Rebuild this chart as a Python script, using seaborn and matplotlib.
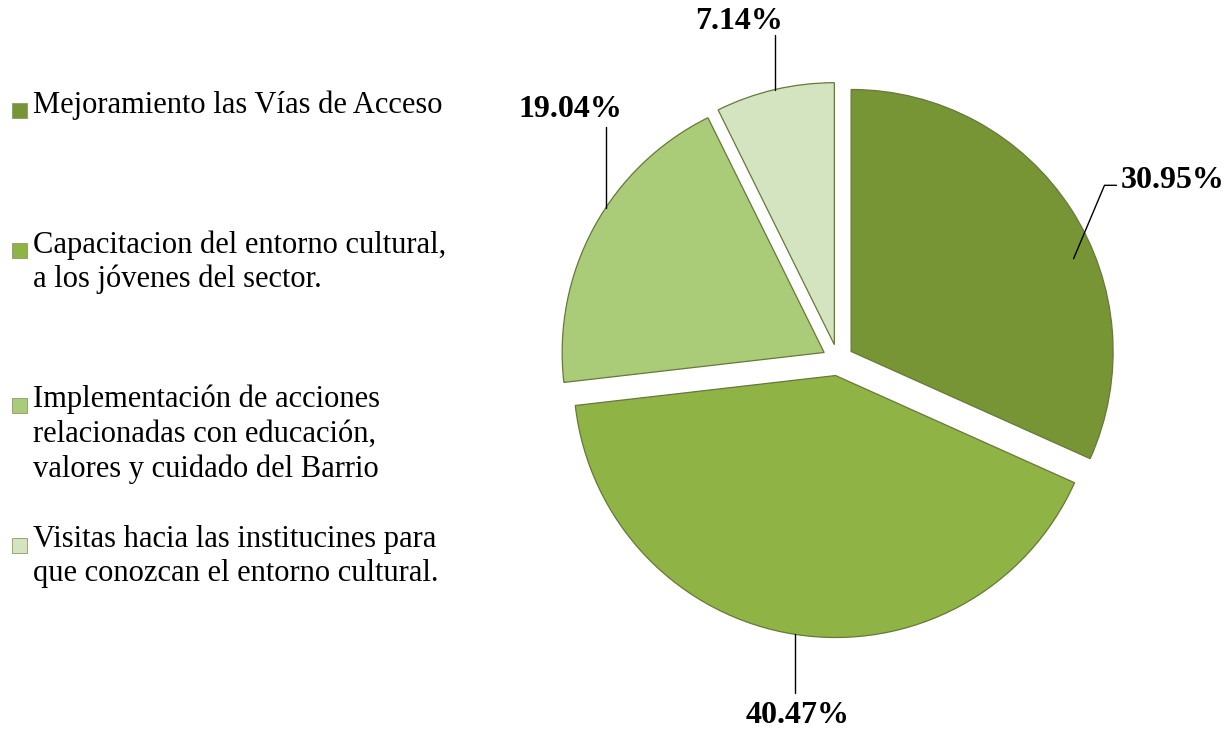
import numpy as np
import matplotlib.pyplot as plt
import seaborn as sns
from matplotlib.patches import Rectangle

# data
categorias = ["Mejoramiento las Vías de Acceso",
              "Capacitacion del entorno cultural,\na los jóvenes del sector.",
              "Implementación de acciones\nrelacionadas con educación,\nvalores y cuidado del Barrio",
              "Visitas hacia las institucines para\nque conozcan el entorno cultural."]
porcentajes = [30.95, 40.47, 19.04, 7.14]
etiquetas = ["30.95%", "40.47%", "19.04%", "7.14%"]
colores = ["#789536", "#8fb445", "#aacb78", "#d5e4c0"]

sns.set_theme(style="white")
plt.rcParams['font.family'] = ['Liberation Serif', 'DejaVu Serif']

fig = plt.figure(figsize=(12.3, 7.3), dpi=100)
ax = fig.add_axes([0.3967, 0.0274, 0.5691, 0.9589])

wedges, _ = ax.pie(porcentajes, colors=colores, startangle=90, counterclock=False,
                   explode=[0.06] * 4, radius=1.0,
                   wedgeprops=dict(edgecolor="#66783a", linewidth=0.9))
ax.set_xlim(-1.336, 1.336)
ax.set_ylim(-1.336, 1.336)
ax.set_aspect('equal')
ax.axis('off')

# where each leader line starts: fraction of the wedge angle and radius
frac = [0.41, 0.50, 0.43, 0.50]
rad = [0.92, 1.0, 1.0, 1.0]
lbl_kw = dict(fontsize=23, fontweight='bold', color='black')
for i, w in enumerate(wedges):
    a = np.deg2rad(w.theta1 + frac[i] * (w.theta2 - w.theta1))
    cx, cy = w.center
    x0, y0 = cx + rad[i] * np.cos(a), cy + rad[i] * np.sin(a)
    if i == 0:
        xe, ye = x0 + 0.118, y0 + 0.28
        ax.plot([x0, xe, xe + 0.046], [y0, ye, ye], color='black', lw=1)
        ax.text(xe + 0.06, ye + 0.02, etiquetas[i], ha='left', va='center', **lbl_kw)
    elif i == 1:
        ye = y0 - 0.225
        ax.plot([x0, x0], [y0, ye], color='black', lw=1)
        ax.text(x0 + 0.01, ye - 0.085, etiquetas[i], ha='center', va='center', **lbl_kw)
    elif i == 2:
        ye = y0 + 0.31
        ax.plot([x0, x0], [y0, ye], color='black', lw=1)
        ax.text(x0 + 0.065, ye + 0.065, etiquetas[i], ha='right', va='center', **lbl_kw)
    else:
        ye = y0 + 0.21
        ax.plot([x0, x0], [y0, ye], color='black', lw=1)
        ax.text(x0 + 0.03, ye + 0.05, etiquetas[i], ha='right', va='center', **lbl_kw)

# legend on the left, drawn by hand so each entry sits at its own row
filas = [110, 250, 405, 545]
for cat, col, yp in zip(categorias, colores, filas):
    yf = 1 - yp / 730
    fig.patches.append(Rectangle((12 / 1230, yf - 8 / 730), 15 / 1230, 15 / 730,
                                 transform=fig.transFigure, facecolor=col,
                                 edgecolor='#8a9a6a', lw=0.6))
    fig.text(33 / 1230, yf + 20 / 730, cat, ha='left', va='top', fontsize=22,
             linespacing=1.24, color='black')

fig.savefig('out.png', dpi=100)
